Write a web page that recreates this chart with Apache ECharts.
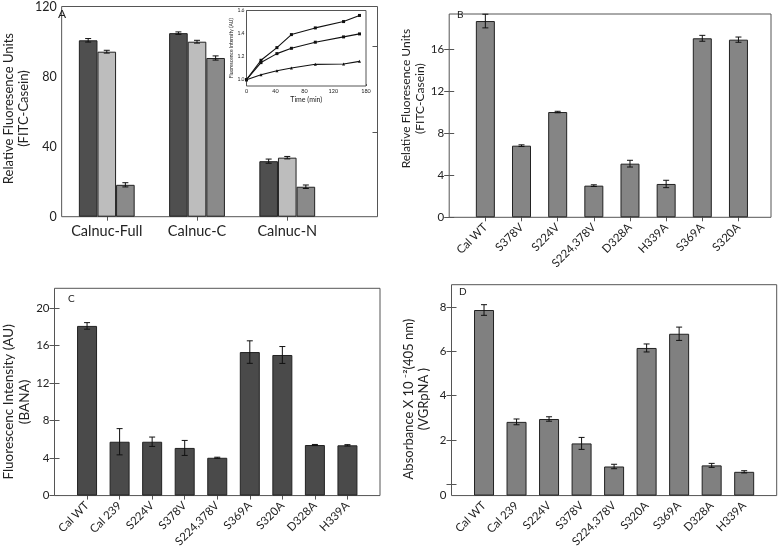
<!DOCTYPE html>
<html><head><meta charset="utf-8">
<script src="https://cdn.jsdelivr.net/npm/echarts@6/dist/echarts.min.js"></script>
<style>html,body{margin:0;padding:0;background:#fff}#c{width:778px;height:550px}</style>
</head><body><div id="c"></div>
<script>
// ---------- Panel A ----------
const aCategories = ['Calnuc-Full', 'Calnuc-C', 'Calnuc-N'];
const aValues1 = [100.7, 104.8, 31.7];
const aErrors1 = [1.0, 0.7, 1.2];
const aValues2 = [94.2, 99.9, 33.7];
const aErrors2 = [0.8, 0.8, 0.7];
const aValues3 = [18.2, 90.6, 17.1];
const aErrors3 = [1.2, 1.2, 1.0];
const aYTicks = [0, 40, 80, 120];
const aRightTicks = [48.2, 97.1];

// ---------- Inset of A ----------
const insetTime = [0, 20, 42, 62, 95, 134, 156];
const insetUpper = [1.0, 1.168, 1.278, 1.391, 1.449, 1.504, 1.557];
const insetMiddle = [1.0, 1.148, 1.226, 1.272, 1.325, 1.371, 1.397];
const insetLower = [1.0, 1.043, 1.078, 1.101, 1.133, 1.136, 1.159];
const insetXTicks = [0, 40, 80, 120, 165];
const insetXTickLabels = ['0', '40', '80', '120', '180'];
const insetYTicks = [1.0, 1.2, 1.4, 1.6];

// ---------- Panel B ----------
const bCategories = ['Cal WT', 'S378V', 'S224V', 'S224,378V', 'D328A', 'H339A', 'S369A', 'S320A'];
const bValues = [18.66, 6.81, 10.01, 3.01, 5.10, 3.17, 17.02, 16.89];
const bErrors = [0.65, 0.08, 0.07, 0.08, 0.32, 0.35, 0.28, 0.25];
const bYTicks = [0, 4, 8, 12, 16];

// ---------- Panel C ----------
const cCategories = ['Cal WT', 'Cal 239', 'S224V', 'S378V', 'S224,378V', 'S369A', 'S320A', 'D328A', 'H339A'];
const cValues = [18.09, 5.74, 5.74, 5.08, 4.03, 15.3, 14.99, 5.39, 5.36];
const cErrors = [0.35, 1.4, 0.5, 0.8, 0.06, 1.2, 0.9, 0.06, 0.07];
const cYTicks = [0, 4, 8, 12, 16, 20];

// ---------- Panel D ----------
const dCategories = ['Cal WT', 'Cal 239', 'S224V', 'S378V', 'S224,378V', 'S320A', 'S369A', 'D328A', 'H339A'];
const dValues = [7.86, 2.82, 2.95, 1.85, 0.81, 6.15, 6.79, 0.86, 0.57];
const dErrors = [0.24, 0.13, 0.1, 0.27, 0.1, 0.18, 0.3, 0.09, 0.05];
const dYTicks = [0, 2, 4, 6, 8];
const dYTickLabels = ['0', '2', '4', '6', '8'];

const FONT = 'Lato';
const TXT = '#222';
const FRAME = '#555';
const idx = arr => arr.map((_, i) => i + 1);
const toXY = arr => arr.map((v, i) => [i + 1, v]);

function errSeries(xi, yi, values, errors, offset, cap) {
  return {
    type: 'custom', xAxisIndex: xi, yAxisIndex: yi, z: 5, silent: true,
    data: values.map((v, i) => [i + 1, v - errors[i], v + errors[i]]),
    encode: { x: 0, y: [1, 2] },
    renderItem: (params, api) => {
      const x = api.value(0);
      const lo = api.coord([x, api.value(1)]);
      const hi = api.coord([x, api.value(2)]);
      const cx = lo[0] + offset;
      const st = { stroke: '#111', lineWidth: 1 };
      return { type: 'group', children: [
        { type: 'line', shape: { x1: cx, y1: hi[1], x2: cx, y2: lo[1] }, style: st },
        { type: 'line', shape: { x1: cx - cap, y1: hi[1], x2: cx + cap, y2: hi[1] }, style: st },
        { type: 'line', shape: { x1: cx - cap, y1: lo[1], x2: cx + cap, y2: lo[1] }, style: st }
      ]};
    }
  };
}

function barSeries(xi, yi, values, color, width) {
  return {
    type: 'bar', xAxisIndex: xi, yAxisIndex: yi, data: toXY(values), barWidth: width, barGap: '0%',
    itemStyle: { color: color, borderColor: '#222', borderWidth: 1 }
  };
}

function bottomX(gi, min, max, cats, opt) {
  const vals = idx(cats);
  return Object.assign({
    gridIndex: gi, type: 'value', min: min, max: max, position: 'bottom',
    axisLine: { show: false }, splitLine: { show: false },
    axisTick: { show: true, inside: true, length: 4, customValues: vals, lineStyle: { color: FRAME } },
    axisLabel: { customValues: vals, formatter: v => cats[v - 1] || '', rotate: 45, margin: 8,
      fontSize: 11.5, color: TXT, fontFamily: FONT }
  }, opt || {});
}
function topX(gi, min, max, vals) {
  return { gridIndex: gi, type: 'value', min: min, max: max, position: 'top',
    axisLine: { show: false }, splitLine: { show: false }, axisLabel: { show: false },
    axisTick: { show: true, inside: true, length: 4, customValues: vals, lineStyle: { color: FRAME } } };
}
function leftY(gi, min, max, ticks, labelVals, fmt, name, gap, nameSize, pad, extra) {
  return Object.assign({
    gridIndex: gi, type: 'value', min: min, max: max, position: 'left',
    axisLine: { show: false }, splitLine: { show: false },
    axisTick: { show: true, inside: true, length: 5, customValues: ticks, lineStyle: { color: FRAME } },
    axisLabel: { customValues: labelVals, formatter: fmt, fontSize: 11.5, color: TXT, fontFamily: FONT, margin: 5 },
    name: name, nameLocation: 'middle', nameRotate: 90, nameGap: gap,
    nameTextStyle: { fontSize: nameSize, color: TXT, fontFamily: FONT, lineHeight: nameSize + 2, padding: pad }
  }, extra || {});
}
function rightY(gi, min, max, ticks) {
  return { gridIndex: gi, type: 'value', min: min, max: max, position: 'right',
    axisLine: { show: false }, splitLine: { show: false }, axisLabel: { show: false },
    axisTick: { show: true, inside: true, length: 5, customValues: ticks, lineStyle: { color: FRAME } } };
}

const frame = { show: true, borderColor: FRAME, borderWidth: 1, backgroundColor: 'transparent' };
const grids = [
  Object.assign({ left: 52.5, top: 3.5, width: 325, height: 213.2 }, frame),            // A
  Object.assign({ left: 246.5, top: 10.5, width: 119.5, height: 75.5 }, frame, { backgroundColor: '#fff', z: 3 }), // inset
  Object.assign({ left: 449.2, top: 14, width: 321.8, height: 203.3 }, frame),          // B
  Object.assign({ left: 54.5, top: 288.3, width: 325.5, height: 211.7 }, frame),        // C
  Object.assign({ left: 451.5, top: 284.7, width: 325.2, height: 213.6 }, frame)        // D
];

const xAxes = [
  // 0,1: A
  bottomX(0, 0.5, 4, aCategories, {
    axisTick: { show: true, inside: false, length: 3, customValues: idx(aCategories), lineStyle: { color: FRAME } },
    axisLabel: { customValues: idx(aCategories), formatter: v => aCategories[v - 1] || '', rotate: 0, margin: 7,
      fontSize: 14.5, color: TXT, fontFamily: FONT } }),
  topX(0, 0.5, 4, idx(aCategories)),
  // 2: inset
  { gridIndex: 1, type: 'value', min: 0, max: 165, axisLine: { show: false }, splitLine: { show: false },
    axisTick: { show: true, inside: true, length: 2, customValues: insetXTicks, lineStyle: { color: FRAME } },
    axisLabel: { customValues: insetXTicks, formatter: v => insetXTickLabels[insetXTicks.indexOf(v)] || '',
      fontSize: 5.5, color: TXT, fontFamily: FONT, margin: 2 },
    name: 'Time (min)', nameLocation: 'middle', nameGap: 10, nameTextStyle: { fontSize: 7, color: TXT, fontFamily: FONT } },
  // 3,4: B
  bottomX(2, 0, 8.9, bCategories), topX(2, 0, 8.9, idx(bCategories)),
  // 5,6: C
  bottomX(3, 0, 10, cCategories), topX(3, 0, 10, idx(cCategories)),
  // 7,8: D
  bottomX(4, 0, 10, dCategories), topX(4, 0, 10, idx(dCategories))
];

const yAxes = [
  // 0,1: A
  leftY(0, 0, 120, [], aYTicks, v => String(v), 'Relative Fluoresence Units\n(FITC-Casein)', 22, 13, [0, 0, 0, 6],
    { axisLabel: { customValues: aYTicks, fontSize: 12.5, color: TXT, fontFamily: FONT, margin: 5 } }),
  rightY(0, 0, 120, aRightTicks),
  // 2: inset
  { gridIndex: 1, type: 'value', min: 0.945, max: 1.6, axisLine: { show: false }, splitLine: { show: false },
    axisTick: { show: true, inside: true, length: 2, customValues: insetYTicks, lineStyle: { color: FRAME } },
    axisLabel: { customValues: insetYTicks, formatter: v => v.toFixed(1), fontSize: 5, color: TXT, fontFamily: FONT, margin: 2 },
    name: 'Fluorescence Intensity (AU)', nameLocation: 'middle', nameRotate: 90, nameGap: 12,
    nameTextStyle: { fontSize: 5, color: TXT, fontFamily: FONT } },
  // 3,4: B
  leftY(2, 0, 19.33, bYTicks, bYTicks, v => String(v), 'Relative Fluoresence Units\n(FITC-Casein)', 20, 12, [0, 0, 0, 34]),
  rightY(2, 0, 19.33, bYTicks),
  // 5,6: C
  leftY(3, 0, 22.1, cYTicks, cYTicks, v => String(v), 'Fluorescenc Intensity (AU)\n(BANA)', 22, 13.5, [0, 20, 0, 0]),
  rightY(3, 0, 22.1, cYTicks),
  // 7,8: D
  leftY(4, -0.5, 9, dYTicks, [-0.5, 2, 4, 6, 8], v => (v < 0 ? dYTickLabels[0] : dYTickLabels[dYTicks.indexOf(v)]),
    'Absorbance X 10 \u207B\u00B2(405 nm)\n(VGRpNA )', 20, 13, [0, 18, 0, 0], { startValue: -0.5 }),
  rightY(4, -0.5, 9, dYTicks)
];

const insetLine = (data, symbol) => ({
  type: 'line', xAxisIndex: 2, yAxisIndex: 2, data: insetTime.map((t, i) => [t, data[i]]),
  symbol: symbol, symbolSize: 3, showSymbol: true, z: 6,
  lineStyle: { color: '#111', width: 1.1 }, itemStyle: { color: '#111' }
});

const series = [
  // A
  barSeries(0, 0, aValues1, '#4f4f4f', 18.6),
  barSeries(0, 0, aValues2, '#bdbdbd', 18.6),
  barSeries(0, 0, aValues3, '#8a8a8a', 18.6),
  errSeries(0, 0, aValues1, aErrors1, -18.6, 3),
  errSeries(0, 0, aValues2, aErrors2, 0, 3),
  errSeries(0, 0, aValues3, aErrors3, 18.6, 3),
  // inset
  insetLine(insetUpper, 'rect'),
  insetLine(insetMiddle, 'rect'),
  insetLine(insetLower, 'triangle'),
  // B
  barSeries(3, 3, bValues, '#858585', 19),
  errSeries(3, 3, bValues, bErrors, 0, 3),
  // C
  barSeries(5, 5, cValues, '#4a4a4a', 20),
  errSeries(5, 5, cValues, cErrors, 0, 3),
  // D
  barSeries(7, 7, dValues, '#808080', 20),
  errSeries(7, 7, dValues, dErrors, 0, 3)
];

const chart = echarts.init(document.getElementById('c'), null, { renderer: 'canvas' });
chart.setOption({
  animation: false,
  backgroundColor: '#fff',
  textStyle: { fontFamily: FONT },
  grid: grids,
  xAxis: xAxes,
  yAxis: yAxes,
  series: series,
  graphic: [
    { type: 'text', left: 58, top: 8, style: { text: 'A', fontSize: 12, fill: TXT, fontFamily: FONT } },
    { type: 'text', left: 457, top: 10, style: { text: 'B', fontSize: 10, fill: TXT, fontFamily: FONT } },
    { type: 'text', left: 68, top: 294, style: { text: 'C', fontSize: 10, fill: TXT, fontFamily: FONT } },
    { type: 'text', left: 459, top: 287, style: { text: 'D', fontSize: 10, fill: TXT, fontFamily: FONT } }
  ]
});
</script></body></html>
